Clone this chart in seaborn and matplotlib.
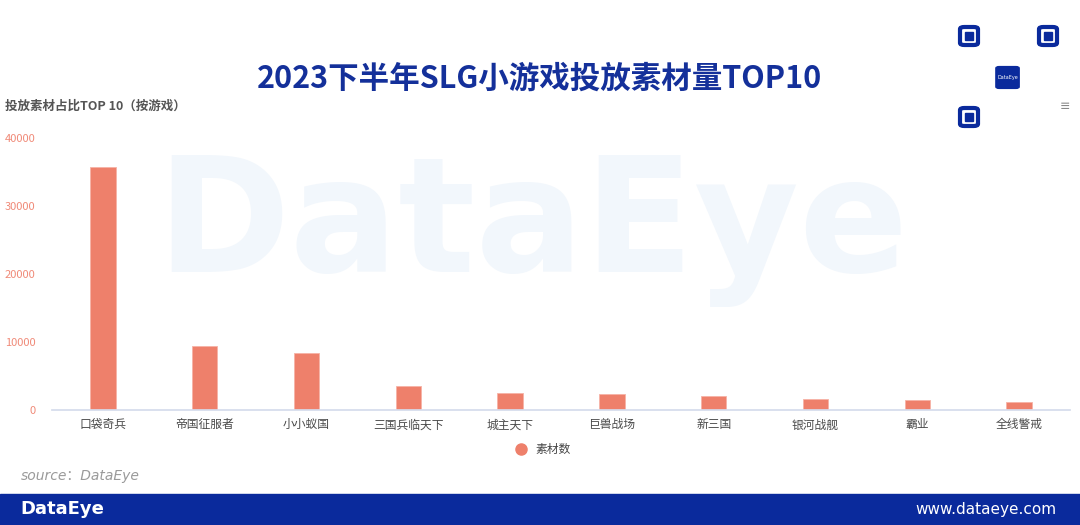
import numpy as np
import seaborn as sns
import matplotlib.pyplot as plt
from matplotlib.lines import Line2D
from matplotlib.patches import Rectangle, FancyBboxPatch

games = ['口袋奇兵', '帝国征服者', '小小蚁国', '三国兵临天下', '城主天下',
         '巨兽战场', '新三国', '银河战舰', '霸业', '全线警戒']
counts = [35800, 9400, 8330, 3530, 2450, 2300, 2060, 1670, 1520, 1180]
yticks = [0, 10000, 20000, 30000, 40000]

sns.set_theme(style='white')
plt.rcParams['font.family'] = ['Noto Sans CJK SC', 'DejaVu Sans']

bar_color = '#ee806b'
navy = '#0a2a9c'

fig = plt.figure(figsize=(10.8, 5.25), dpi=100)

# marca de agua
fig.text(0.493, 0.482, 'DataEye', fontsize=116, fontweight='bold', color='#f2f7fc',
         ha='center', va='baseline', family='DejaVu Sans', zorder=0)

ax = fig.add_axes([0.0481, 0.219, 0.9426, 0.518])
ax.patch.set_alpha(0)
sns.barplot(x=games, y=counts, color=bar_color, width=0.25, saturation=1, ax=ax,
            edgecolor='#f6b3a6', linewidth=0.6)

ax.set_xlim(-0.5, len(games) - 0.5)
ax.set_ylim(0, 40000)
ax.set_yticks(yticks)
ax.set_yticklabels([str(v) for v in yticks], color='#f08a78', fontsize=8)
ax.tick_params(axis='y', length=0, pad=12)
ax.set_xticks(range(len(games)))
ax.set_xticklabels(games, color='#4a4a4a', fontsize=8.5)
ax.tick_params(axis='x', which='major', length=0, pad=6)
ax.set_xticks(np.arange(-0.5, len(games)), minor=True)
ax.tick_params(axis='x', which='minor', length=5, color='#d5dcec', width=1)
for s in ['top', 'right', 'left']:
    ax.spines[s].set_visible(False)
ax.spines['bottom'].set_color('#d5dcec')
ax.set_xlabel('')
ax.set_ylabel('')

# titulos
fig.text(0.5, 0.851, '2023下半年SLG小游戏投放素材量TOP10', fontsize=22, fontweight='bold',
         color='#14309a', ha='center', va='center')
fig.text(0.005, 0.798, '投放素材占比TOP 10（按游戏）', fontsize=9, fontweight='bold',
         color='#555555', ha='left', va='center')

# leyenda
handle = Line2D([0], [0], marker='o', linestyle='', markersize=8, color=bar_color)
fig.legend([handle], ['素材数'], loc='center', bbox_to_anchor=(0.5, 0.143), frameon=False,
           fontsize=8.5, handletextpad=0.3, labelcolor='#444444')

fig.text(0.019, 0.093, 'source：DataEye', fontsize=10, style='italic', color='#9a9a9a',
         ha='left', va='center', family=['DejaVu Sans', 'Noto Sans CJK SC'])

# banda inferior
fig.patches.append(Rectangle((0, 0), 1, 0.059, transform=fig.transFigure, color=navy, zorder=1))
fig.text(0.019, 0.03, 'DataEye', fontsize=13, fontweight='bold', color='white',
         ha='left', va='center', family='DejaVu Sans')
fig.text(0.978, 0.03, 'www.dataeye.com', fontsize=11, color='white',
         ha='right', va='center', family='DejaVu Sans')

# QR (solo esquema)
qx, qy, qw, qh = 960 / 1080, 1 - 126 / 525, 97 / 1080, 99 / 525
fw, fh = 18 / 1080, 18 / 525
for (fx, fy) in [(qx, qy + qh - fh), (qx + qw - fw, qy + qh - fh), (qx, qy)]:
    fig.patches.append(FancyBboxPatch((fx, fy), fw, fh, boxstyle='round,pad=0,rounding_size=0.004',
                                      transform=fig.transFigure, fill=False, edgecolor=navy, linewidth=3))
    fig.patches.append(Rectangle((fx + fw * 0.3, fy + fh * 0.3), fw * 0.4, fh * 0.4,
                                 transform=fig.transFigure, color=navy))
fig.patches.append(FancyBboxPatch((qx + qw * 0.37, qy + qh * 0.38), qw * 0.24, qh * 0.22,
                                  boxstyle='round,pad=0,rounding_size=0.003',
                                  transform=fig.transFigure, color=navy))
fig.text(qx + qw * 0.49, qy + qh * 0.49, 'DataEye', fontsize=3.5, color='white',
         ha='center', va='center', family='DejaVu Sans')
fig.text(0.986, 0.798, '≡', fontsize=9, color='#888888', ha='center', va='center',
         family='DejaVu Sans')

fig.savefig('out.png', dpi=100)
